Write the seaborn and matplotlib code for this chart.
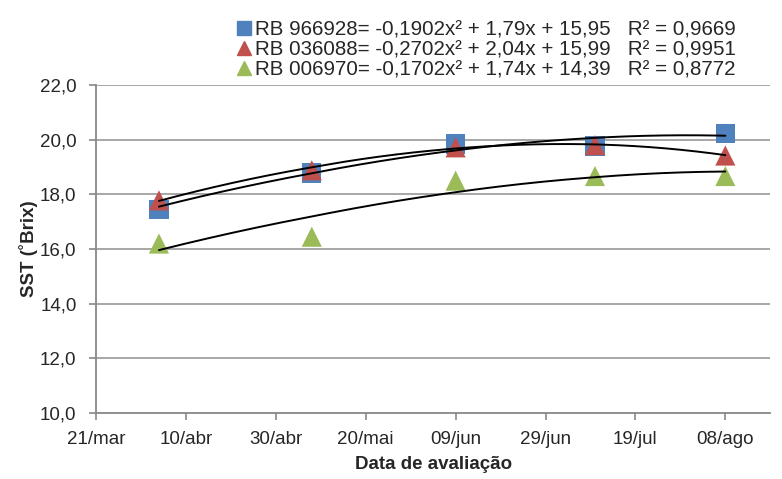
import numpy as np
import pandas as pd
import matplotlib
matplotlib.use("Agg")
import matplotlib.pyplot as plt
import matplotlib.dates as mdates
from matplotlib.lines import Line2D
import seaborn as sns

# Datas de avaliação e valores de SST (°Brix)
datas = ["2013-04-04", "2013-05-08", "2013-06-09", "2013-07-10", "2013-08-08"]
rb966928 = [17.46, 18.78, 19.84, 19.77, 20.24]
rb036088 = [17.78, 18.88, 19.72, 19.80, 19.42]
rb006970 = [16.20, 16.45, 18.50, 18.67, 18.67]

variedades = ["RB 966928", "RB 036088", "RB 006970"]
cores = ["#4F81BD", "#C0504D", "#9BBB59"]
marcadores = ["s", "^", "^"]

# Coeficientes das linhas de tendência (polinômio de 2º grau, x = 1..5)
coef = [[-0.1902, 1.79, 15.95], [-0.2702, 2.04, 15.99], [-0.1702, 1.74, 14.39]]
r2 = ["0,9669", "0,9951", "0,8772"]
equacoes = ["= -0,1902x² + 1,79x + 15,95", "= -0,2702x² + 2,04x + 15,99", "= -0,1702x² + 1,74x + 14,39"]

ticks_x = ["2013-03-21", "2013-04-10", "2013-04-30", "2013-05-20",
           "2013-06-09", "2013-06-29", "2013-07-19", "2013-08-08"]
rotulos_x = ["21/mar", "10/abr", "30/abr", "20/mai", "09/jun", "29/jun", "19/jul", "08/ago"]
ticks_y = [10, 12, 14, 16, 18, 20, 22]

sns.set_style("white")
plt.rcParams["font.family"] = ["Liberation Sans", "DejaVu Sans"]

df = pd.DataFrame({"data": pd.to_datetime(datas)})
df[variedades[0]] = rb966928
df[variedades[1]] = rb036088
df[variedades[2]] = rb006970
df_long = df.melt(id_vars="data", var_name="variedade", value_name="sst")

fig, ax = plt.subplots(figsize=(7.82, 4.79), dpi=100)
fig.subplots_adjust(left=0.1228, right=0.985, top=0.8225, bottom=0.1378)

# grade horizontal
for y in ticks_y[1:]:
    ax.axhline(y, color="#A0A0A0", lw=1.3, zorder=0)

# linhas de tendência
idx = np.arange(1, len(datas) + 1)
datas_num = mdates.date2num(pd.to_datetime(datas))
t = np.linspace(1, len(datas), 200)
for i, c in enumerate(coef):
    curva = pd.DataFrame({"data": mdates.num2date(np.interp(t, idx, datas_num)), "sst": np.polyval(c, t)})
    sns.lineplot(data=curva, x="data", y="sst", color="black", lw=1.4, ax=ax, sort=False, zorder=4)

# pontos
for i, v in enumerate(variedades):
    sub = df_long[df_long["variedade"] == v]
    sns.scatterplot(data=sub, x="data", y="sst", marker=marcadores[i], color=cores[i],
                    s=190 if marcadores[i] == "s" else 210, edgecolor="none", ax=ax, zorder=3)

ax.set_ylim(10, 22)
ax.set_xlim(pd.Timestamp("2013-03-21"), pd.Timestamp("2013-08-18"))
ax.set_yticks(ticks_y)
ax.set_yticklabels([f"{y:.1f}".replace(".", ",") for y in ticks_y], fontsize=13.5)
ax.set_xticks(pd.to_datetime(ticks_x))
ax.set_xticklabels(rotulos_x, fontsize=13.5)
ax.tick_params(axis="both", direction="out", length=5, width=1.2, color="#888888", bottom=True, left=True)
ax.tick_params(axis="x", pad=8)
ax.tick_params(axis="y", pad=9)

for lado in ["top", "right"]:
    ax.spines[lado].set_visible(False)
for lado in ["left", "bottom"]:
    ax.spines[lado].set_color("#888888")
    ax.spines[lado].set_linewidth(1.3)

ax.set_xlabel("Data de avaliação", fontsize=13.5, fontweight="bold", labelpad=6)
ax.set_ylabel("SST (˚Brix)", fontsize=13.5, fontweight="bold")
ax.yaxis.set_label_coords(-0.086, 0.5)

# legenda com as equações
handles = [Line2D([], [], marker=marcadores[i], color=cores[i], ls="none", markersize=10)
           for i in range(3)]
labels = [f"{variedades[i]}{equacoes[i]}   R² = {r2[i]}" for i in range(3)]
fig.legend(handles, labels, loc="upper left", bbox_to_anchor=(0.29, 0.975), frameon=False,
           fontsize=14.8, handletextpad=0.05, labelspacing=0.05, handlelength=0.9, borderaxespad=0)

fig.savefig("out.png", dpi=100)
